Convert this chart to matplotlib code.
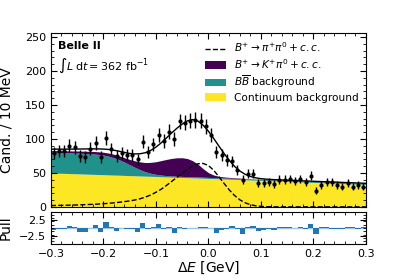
import numpy as np
import matplotlib.pyplot as plt
from matplotlib.ticker import AutoMinorLocator, MultipleLocator

# binned data: 60 bins of 10 MeV in Delta E
bin_lo, bin_hi, n_bins = -0.3, 0.3, 60
counts = [79, 82, 82, 90, 88, 75, 74, 86, 94, 74,
          101, 85, 75, 80, 77, 77, 70, 96, 81, 92,
          106, 97, 111, 100, 126, 124, 127, 128, 127, 119,
          106, 81, 76, 69, 67, 54, 40, 49, 49, 35,
          35, 37, 34, 40, 40, 41, 38, 41, 37, 46,
          24, 32, 37, 37, 32, 30, 35, 30, 32, 30]
pulls = [-0.6, -0.3, -0.3, 0.5, 0.3, -1.1, -1.2, 0.1, 1.0, -1.1,
         1.7, 0.2, -0.8, -0.1, -0.3, -0.3, -1.2, 1.5, -0.3, 0.4,
         1.2, -0.4, 0.2, -1.6, 0.4, -0.2, -0.1, 0.1, 0.3, 0.3,
         0.0, -1.4, -0.7, -0.2, 0.6, -0.3, -1.7, 0.3, 0.6, -0.8,
         -0.6, -0.4, -0.5, 0.2, 0.3, 0.2, -0.1, 0.3, -0.2, 1.3,
         -1.9, 0.3, 0.4, -0.3, -0.3, -0.2, 0.3, 0.2, -0.3, 0.2]

# fit components, read every 10 MeV from -0.3 to 0.3
grid_lo, grid_hi, n_grid = -0.3, 0.3, 61
continuum = [50.0, 49.8, 49.5, 49.3, 49.0, 48.8, 48.5, 48.2, 48.0, 47.7,
             47.5, 47.2, 46.9, 46.7, 46.4, 46.1, 45.9, 45.6, 45.3, 45.1,
             44.8, 44.5, 44.2, 44.0, 43.7, 43.4, 43.1, 42.8, 42.6, 42.3,
             42.0, 41.7, 41.4, 41.1, 40.9, 40.6, 40.3, 40.0, 39.7, 39.4,
             39.1, 38.8, 38.5, 38.2, 37.9, 37.6, 37.3, 37.0, 36.7, 36.4,
             36.1, 35.8, 35.5, 35.2, 34.9, 34.6, 34.3, 34.0, 33.7, 33.4, 33.1]
bbbar = [30.5, 30.5, 30.5, 30.5, 30.5, 30.5, 30.4, 30.3, 30.1, 29.6,
         28.8, 27.5, 25.5, 22.8, 19.6, 16.0, 12.4, 9.2, 6.5, 4.5,
         3.2, 2.4, 1.9, 1.7, 1.6, 1.5, 1.5, 1.5, 1.5, 1.5,
         1.5, 1.5, 1.5, 1.5, 1.5, 1.5, 1.5, 1.4, 1.4, 1.4,
         1.4, 1.4, 1.4, 1.4, 1.4, 1.4, 1.4, 1.4, 1.3, 1.3,
         1.3, 1.3, 1.3, 1.3, 1.3, 1.3, 1.3, 1.3, 1.3, 1.3, 1.3]
kpi0 = [2.5, 2.6, 2.7, 2.8, 2.9, 3.0, 3.2, 3.4, 3.6, 3.9,
        4.2, 4.6, 5.1, 5.7, 6.5, 7.8, 9.5, 11.5, 13.5, 16.0,
        18.5, 21.3, 23.8, 25.7, 27.0, 27.5, 26.6, 23.8, 18.8, 12.5,
        7.0, 3.8, 2.2, 1.5, 1.1, 0.8, 0.6, 0.5, 0.4, 0.35,
        0.3, 0.3, 0.3, 0.3, 0.3, 0.3, 0.3, 0.3, 0.3, 0.3,
        0.25, 0.25, 0.25, 0.25, 0.25, 0.25, 0.25, 0.25, 0.25, 0.25, 0.25]
pipi0 = [2.0, 2.2, 2.3, 2.5, 2.7, 2.9, 3.2, 3.5, 3.8, 4.2,
         4.7, 5.3, 6.0, 6.8, 7.8, 8.8, 10.2, 12.0, 14.5, 17.5,
         21.5, 26.0, 31.5, 37.5, 43.5, 49.5, 55.5, 60.5, 63.5, 64.0,
         61.0, 54.0, 44.5, 34.5, 24.8, 16.7, 10.4, 6.1, 3.3, 1.7,
         0.8, 0.4, 0.2, 0.1, 0.1, 0.1, 0.1, 0.1, 0.1, 0.1,
         0.1, 0.1, 0.1, 0.1, 0.1, 0.1, 0.1, 0.1, 0.1, 0.1, 0.1]

edges = np.linspace(bin_lo, bin_hi, n_bins + 1)
centers = 0.5 * (edges[1:] + edges[:-1])
counts = np.array(counts, dtype=float)
grid = np.linspace(grid_lo, grid_hi, n_grid)

s1 = np.array(continuum)
s2 = s1 + np.array(bbbar)
s3 = s2 + np.array(kpi0)
total = s3 + np.array(pipi0)

purple, teal, yellow = '#440154', '#21918c', '#fde725'

fig = plt.figure(figsize=(4.07, 2.80), dpi=100)
ax = fig.add_axes([0.125, 0.261, 0.774, 0.621])
axp = fig.add_axes([0.125, 0.129, 0.774, 0.114], sharex=ax)

ax.fill_between(grid, 0, s1, color=yellow, lw=0, label='Continuum background')
ax.fill_between(grid, s1, s2, color=teal, lw=0, label=r'$B\overline{B}$ background')
ax.fill_between(grid, s2, s3, color=purple, lw=0, label=r'$B^{+}\to K^{+}\pi^{0}+c.c.$')
ax.plot(grid, pipi0, 'k--', lw=1, label=r'$B^{+}\to \pi^{+}\pi^{0}+c.c.$')
ax.plot(grid, total, 'k-', lw=1)
ax.errorbar(centers, counts, yerr=np.sqrt(counts), fmt='o', color='k',
            ms=2, elinewidth=1, capsize=0)

ax.set_xlim(bin_lo, bin_hi)
ax.set_ylim(0, 256)
ax.set_ylabel('Cand. / 10 MeV', fontsize=10)
ax.yaxis.set_minor_locator(AutoMinorLocator(5))
ax.xaxis.set_minor_locator(AutoMinorLocator(5))
ax.tick_params(labelbottom=False)

handles, labels = ax.get_legend_handles_labels()
order = [3, 2, 1, 0]
ax.legend([handles[i] for i in order], [labels[i] for i in order],
          loc='upper right', frameon=False, fontsize=7.6,
          handlelength=2.0, handletextpad=0.7, labelspacing=0.25,
          borderaxespad=0.3)

ax.text(0.022, 0.955, 'Belle II', transform=ax.transAxes, fontsize=8,
        fontweight='bold', va='top')
ax.text(0.022, 0.865, r'$\int L\;\mathrm{d}t = 362\ \mathrm{fb}^{-1}$',
        transform=ax.transAxes, fontsize=8, va='top')

axp.bar(centers, pulls, width=edges[1] - edges[0], color='C0')
axp.axhline(0, color='#9ec5e8', lw=1, zorder=0)
axp.set_ylim(-4.8, 4.8)
axp.set_yticks([-2.5, 2.5])
axp.yaxis.set_minor_locator(MultipleLocator(1))
axp.xaxis.set_minor_locator(AutoMinorLocator(5))
axp.set_ylabel('Pull', fontsize=10)
axp.set_xlabel(r'$\Delta E$ [GeV]', fontsize=10, labelpad=1)
axp.set_xticks([-0.3, -0.2, -0.1, 0.0, 0.1, 0.2, 0.3])

for a in (ax, axp):
    a.tick_params(which='both', direction='in', top=True, right=True, labelsize=8)
    a.tick_params(which='major', length=4)
    a.tick_params(which='minor', length=2)

ax.yaxis.set_label_coords(-0.12, 0.5)
axp.yaxis.set_label_coords(-0.12, 0.5)

fig.savefig('out.png', dpi=100)
